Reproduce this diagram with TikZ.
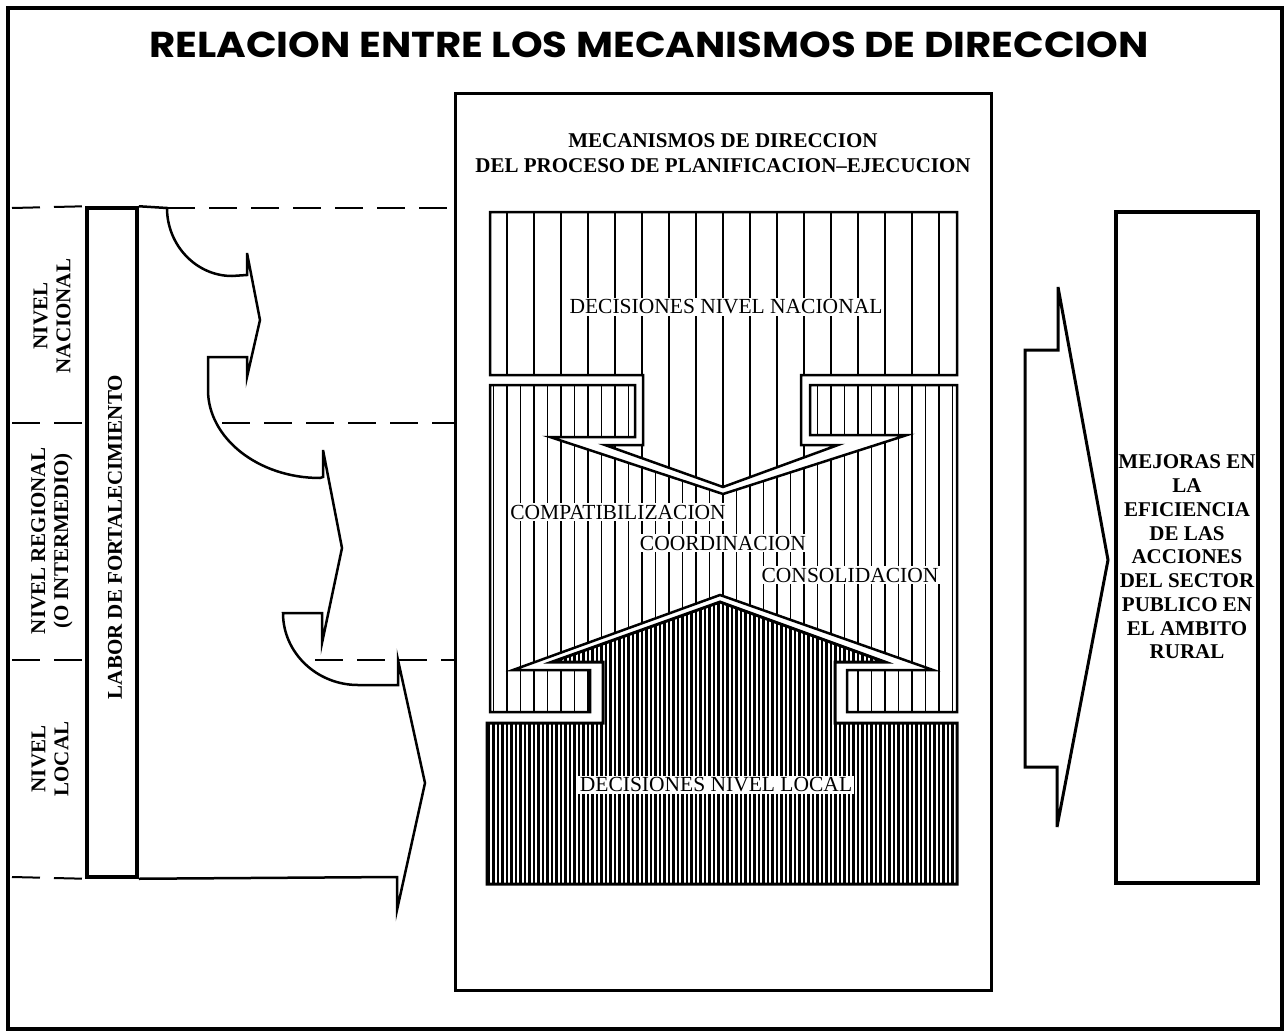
\documentclass[tikz,border=0pt]{standalone}
\usepackage{fontspec}
\setmainfont{Liberation Serif}
\newfontfamily\titlefont{Poppins}
% shapes of the three decision blocks (px, y downwards)
\newcommand{\natpath}{(490,212) -- (957,212) -- (957,375) -- (801,375) -- (801,445) -- (838,445) -- (723,487) -- (605,445) -- (643,445) -- (643,375) -- (490,375) -- cycle}
\newcommand{\regpath}{(490,385) -- (635,385) -- (635,437) -- (550,437) -- (723,494) -- (907,435) -- (810,435) -- (810,385) -- (957,385) -- (957,712) -- (847,712) -- (847,670) -- (933,670) -- (720,595) -- (513,670) -- (590,670) -- (590,712) -- (490,712) -- cycle}
\newcommand{\locpath}{(487,723) -- (603,723) -- (603,662) -- (552,662) -- (720,602) -- (885,662) -- (835,662) -- (835,723) -- (957,723) -- (957,884) -- (487,884) -- cycle}
\begin{document}
\begin{tikzpicture}[x=1pt,y=-1pt,line join=miter]
        \tikzstyle{frame}=[draw=black,line width=4pt]
        \tikzstyle{panel}=[draw=black,line width=3pt,inner sep=0pt]
        \tikzstyle{outline}=[draw=black,line width=2.5pt]
        \tikzstyle{hatch}=[draw=black,line width=1.6pt]
        \tikzstyle{divider}=[draw=black,line width=2pt,dash pattern=on 28pt off 14pt]
        \tikzstyle{levellabel}=[font=\fontsize{21}{23}\selectfont\bfseries,align=center,rotate=90,inner sep=0pt]
        \tikzstyle{heading}=[font=\fontsize{21}{25}\selectfont\bfseries,align=center,inner sep=0pt]
        \tikzstyle{hatchtext}=[font=\fontsize{21.5}{24}\selectfont,fill=white,inner sep=2pt]
        \useasboundingbox (0,0) rectangle (1288,1033);

        % frame and title
        \draw[frame] (8,8) rectangle (1282,1029);
        \node[font=\titlefont\bfseries\fontsize{36}{40}\selectfont,inner sep=0pt] (titulo) at (649,45) {\scalebox{1.12}[1]{RELACION ENTRE LOS MECANISMOS DE DIRECCION}};

        % level column and labor box
        \node[panel,line width=3.5pt,minimum width=50pt,minimum height=669pt] (laborbox) at (112,542.5) {};
        \node[levellabel] (labor) at (115,537) {LABOR DE FORTALECIMIENTO};
        \node[levellabel] (nivnac) at (52,316) {NIVEL\\NACIONAL};
        \node[levellabel] (nivreg) at (52,541) {NIVEL REGIONAL\\(O INTERMEDIO)};
        \node[levellabel] (nivloc) at (50,759) {NIVEL\\LOCAL};

        \coordinate (d1) at (167,208);
        \coordinate (d2) at (222,423);
        \coordinate (d3) at (315,660);
        \path[divider] (12,208) -- (laborbox.north west);
        \path[divider] (12,423) -- (87,423);
        \path[divider] (12,660) -- (87,660);
        \path[divider] (12,877) -- (laborbox.south west);

        % middle panel
        \node[panel,minimum width=536pt,minimum height=897pt] (mecbox) at (723,541.5) {};
        \node[heading] (mecanismos) at (723,153) {MECANISMOS DE DIRECCION\\DEL PROCESO DE PLANIFICACION–EJECUCION};
        \path[divider] (d1) -- (mecbox.west |- d1);
        \path[divider] (d2) -- (mecbox.west |- d2);
        \path[divider] (d3) -- (mecbox.west |- d3);

        \begin{scope}
          \clip \natpath;
          \foreach \i in {0,...,16} \draw[hatch] ({507+27*\i},200) -- ({507+27*\i},500);
        \end{scope}
        \begin{scope}
          \clip \regpath;
          \foreach \i in {-1,...,33} \draw[hatch] ({507+13.5*\i},380) -- ({507+13.5*\i},720);
        \end{scope}
        \begin{scope}
          \clip \locpath;
          \foreach \i in {0,...,104} \draw[hatch,line width=2.2pt] ({489+4.5*\i},595) -- ({489+4.5*\i},890);
        \end{scope}
        \path[outline] \natpath;
        \path[outline] \regpath;
        \path[outline,line width=3pt] \locpath;

        \node[hatchtext] (decnac) at (726,307) {DECISIONES NIVEL NACIONAL};
        \node[hatchtext] (compat) at (618,512) {COMPATIBILIZACION};
        \node[hatchtext] (coord) at (723,543) {COORDINACION};
        \node[hatchtext] (consol) at (850,575) {CONSOLIDACION};
        \node[hatchtext] (declocal) at (716,785) {DECISIONES NIVEL LOCAL};

        % flow from the labor box to the three levels
        \path[outline] (laborbox.north east) -- (167,208) .. controls (167,245) and (196,276) .. (232,276) -- (247,275) -- (247,253) -- (260,320) -- (247,377) -- (247,357) -- (208,357) -- (208,390) .. controls (208,438) and (258,478) .. (320,478) -- (323,477) -- (323,450) -- (342,548) -- (322,643) -- (322,613) -- (283,613) .. controls (283,653) and (317,685) .. (358,685) -- (398,685) -- (398,660) -- (425,783) -- (397,910) -- (397,877) -- (laborbox.south east);

        % result
        \path[outline,line width=3pt] (1025,350) -- (1058,350) -- (1058,287) -- (1108,560) -- (1057,827) -- (1057,767) -- (1025,767) -- cycle;
        \node[panel,line width=3.5pt,minimum width=142pt,minimum height=671pt] (mejbox) at (1187,547.5) {};
        \node[font=\fontsize{21}{23.75}\selectfont\bfseries,align=center,inner sep=0pt] (mejoras) at (1187,557) {MEJORAS EN\\LA\\EFICIENCIA\\DE LAS\\ACCIONES\\DEL SECTOR\\PUBLICO EN\\EL AMBITO\\RURAL};
\end{tikzpicture}
\end{document}
